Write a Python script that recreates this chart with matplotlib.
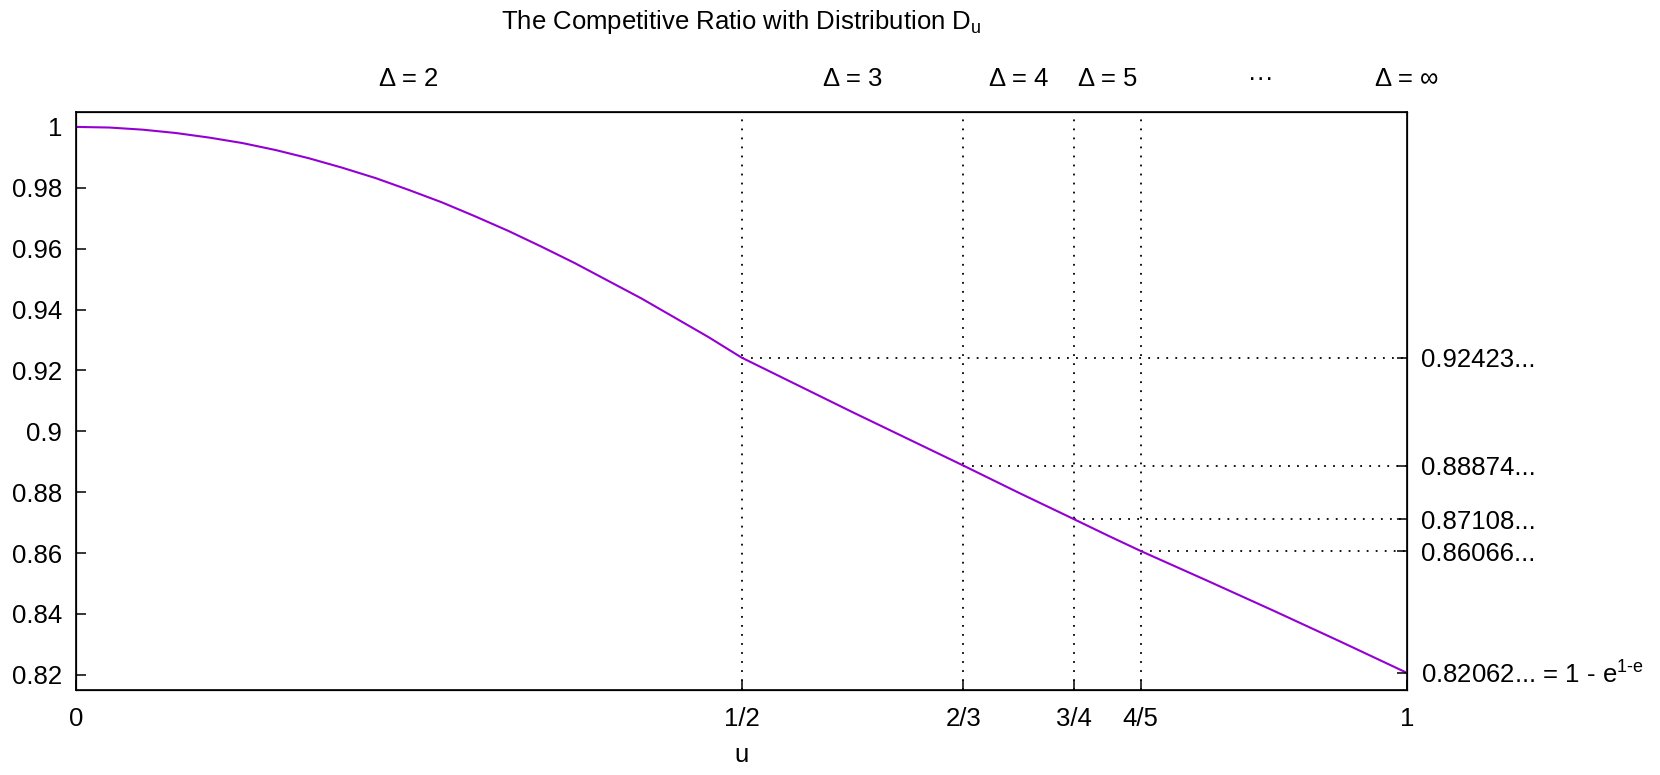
import matplotlib
matplotlib.use("Agg")
import matplotlib.pyplot as plt

plt.rcParams['font.family'] = ['Liberation Sans', 'DejaVu Sans']
plt.rcParams['mathtext.fontset'] = 'custom'
plt.rcParams['mathtext.rm'] = 'Liberation Sans'
plt.rcParams['mathtext.it'] = 'Liberation Sans'

# curve
u_vals = [0.0, 0.025, 0.05, 0.075, 0.10, 0.125, 0.15, 0.175, 0.20, 0.225,
          0.25, 0.275, 0.30, 0.325, 0.35, 0.375, 0.40, 0.425, 0.45, 0.475, 0.5,
          7/12, 2/3, 17/24, 3/4, 31/40, 4/5, 0.85, 0.9, 0.95, 1.0]
ratio_vals = [1.0000, 0.9998, 0.9991, 0.9980, 0.9965, 0.9947, 0.9924, 0.9897,
              0.9866, 0.9832, 0.9793, 0.9752, 0.9706, 0.9658, 0.9606, 0.9552,
              0.9494, 0.9436, 0.9373, 0.9310, 0.92423, 0.9063, 0.88874, 0.8798,
              0.87108, 0.8658, 0.86066, 0.8509, 0.8410, 0.8309, 0.82062]

break_u = [1/2, 2/3, 3/4, 4/5]
break_ratio = [0.92423, 0.88874, 0.87108, 0.86066]
end_ratio = 0.82062

x_ticks = [0, 1/2, 2/3, 3/4, 4/5, 1]
x_labels = ["0", "1/2", "2/3", "3/4", "4/5", "1"]
y_ticks = [0.82, 0.84, 0.86, 0.88, 0.9, 0.92, 0.94, 0.96, 0.98, 1.0]
y_labels = ["0.82", "0.84", "0.86", "0.88", "0.9", "0.92", "0.94", "0.96", "0.98", "1"]
right_labels = ["0.92423...", "0.88874...", "0.87108...", "0.86066...",
                r"0.82062... = 1 - e$^{\mathregular{1\text{-}e}}$"]
delta_labels = ["\u0394 = 2", "\u0394 = 3", "\u0394 = 4", "\u0394 = 5", "\u00b7\u00b7\u00b7", "\u0394 = \u221e"]
delta_pos = [1/4, 7/12, 17/24, 31/40, 0.89, 1.0]

fs = 18.5
fig = plt.figure(figsize=(16.6, 7.75), dpi=100)
ax = fig.add_axes([76/1660, 1 - 690/775, (1407 - 76)/1660, (690 - 111.7)/775])

ax.plot(u_vals, ratio_vals, color='#9400d3', lw=1.5, zorder=3)

dots = (0, (1, 4))
for bu, br in zip(break_u, break_ratio):
    ax.axvline(bu, color='black', lw=1.3, linestyle=dots, zorder=2)
    ax.plot([bu, 1], [br, br], color='black', lw=1.3, linestyle=dots, zorder=2)

ax.set_xlim(0, 1)
ax.set_ylim(0.815, 1.005)
ax.set_xticks(x_ticks)
ax.set_xticklabels(x_labels)
ax.set_yticks(y_ticks)
ax.set_yticklabels(y_labels)
ax.tick_params(axis='x', direction='in', length=7, width=1.1, top=True,
               labelsize=fs, pad=12)
ax.tick_params(axis='y', direction='in', length=7, width=1.1, right=False,
               labelsize=fs, pad=10)
ax.set_xlabel("u", fontsize=fs, labelpad=9)
for s in ax.spines.values():
    s.set_linewidth(1.2)

# right axis with the special values
axr = ax.twinx()
axr.set_ylim(ax.get_ylim())
axr.set_yticks(break_ratio + [end_ratio])
axr.set_yticklabels(right_labels)
axr.tick_params(axis='y', direction='in', length=7, width=1.1, labelsize=fs, pad=10)

# top labels for each interval
axt = ax.twiny()
axt.set_xlim(0, 1)
axt.set_xticks(delta_pos)
axt.set_xticklabels(delta_labels)
axt.tick_params(axis='x', length=0, labelsize=fs, pad=15)

fig.text(741.5/1660, 1 - 29.5/775, r"The Competitive Ratio with Distribution D$_{\mathregular{u}}$",
         ha='center', va='baseline', fontsize=fs)

fig.savefig("out.png", dpi=100)
